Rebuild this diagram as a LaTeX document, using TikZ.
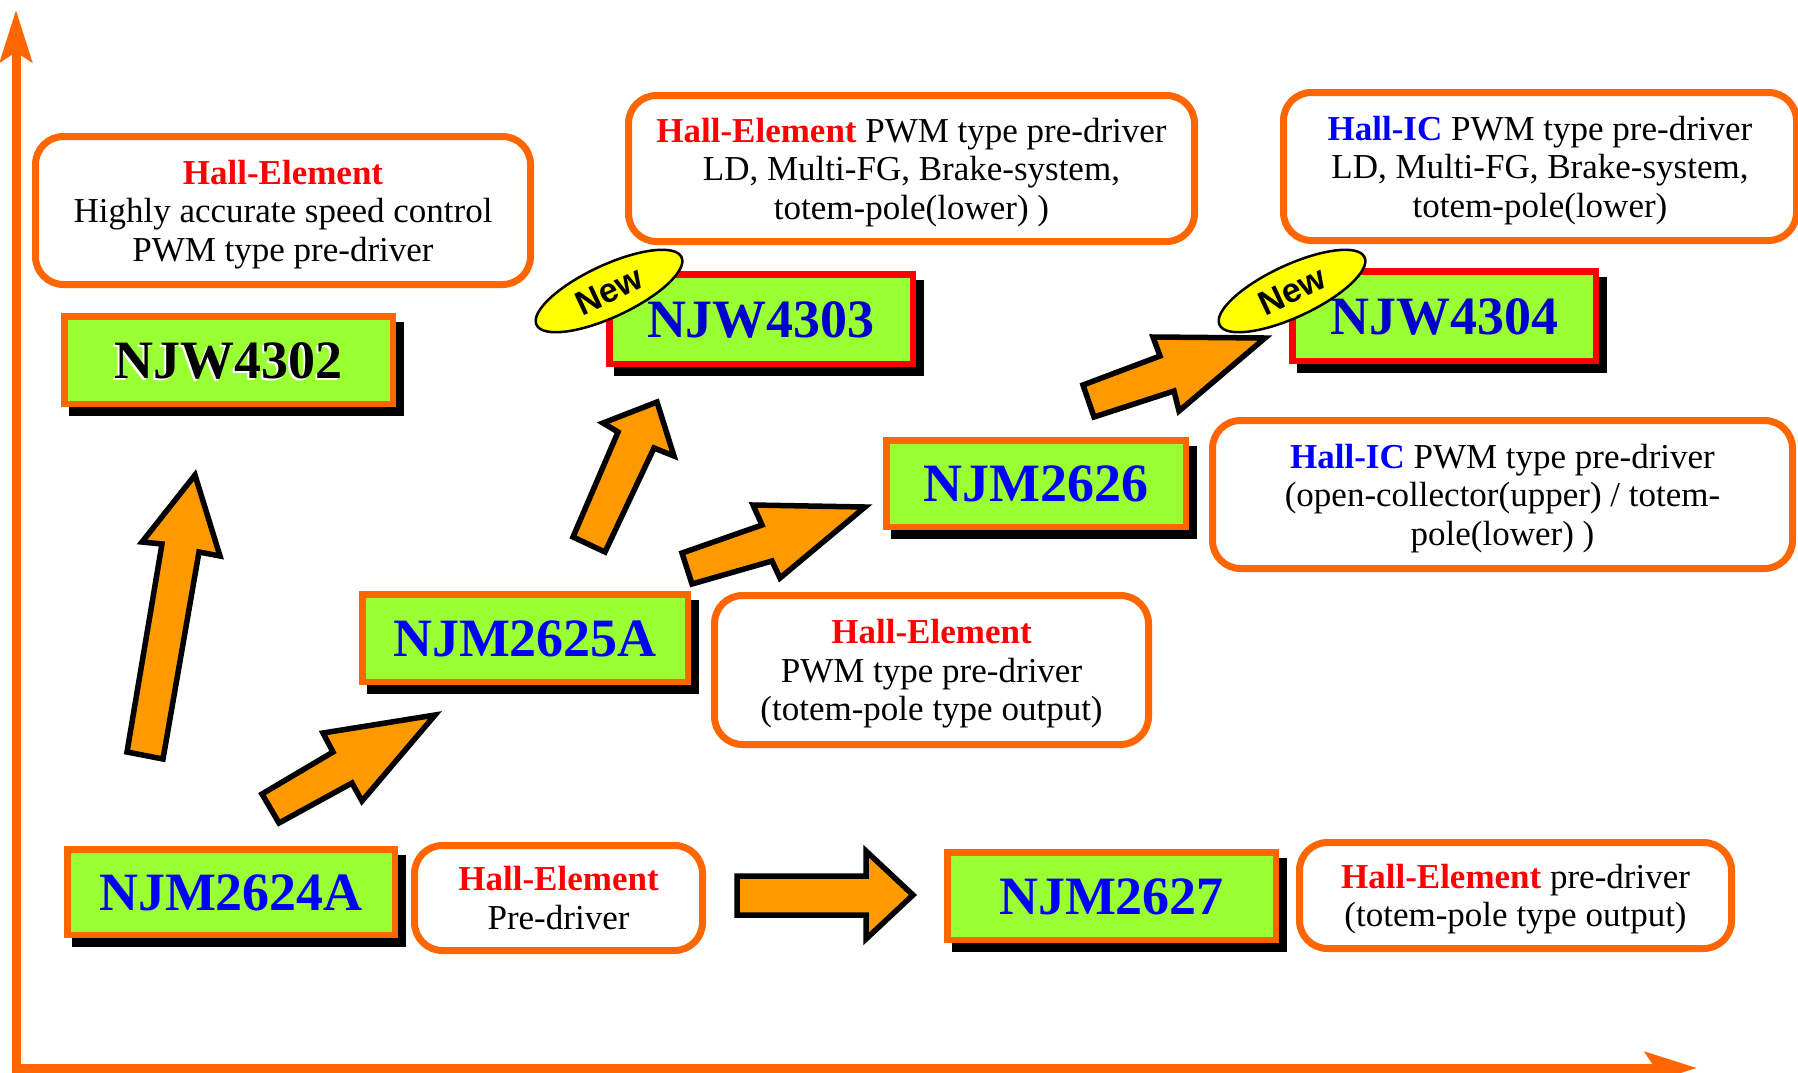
\documentclass[tikz,border=0pt]{standalone}
\usepackage{fontspec}
\setmainfont{Liberation Serif}
\newfontfamily\tagfamily{Liberation Sans}
\usepackage{xcolor}
\usepackage{tikz}
\usetikzlibrary{shapes,arrows.meta,positioning,shadows}

\definecolor{boxor}{HTML}{FF6600}
\definecolor{chipgreen}{HTML}{99FF33}
\definecolor{arrowor}{HTML}{FF9900}
\definecolor{hallred}{HTML}{FF0000}
\definecolor{hallblue}{HTML}{0000FF}
\definecolor{chipblue}{HTML}{0000FF}
\definecolor{newblue}{HTML}{0000CC}
\definecolor{newyellow}{HTML}{FFFF00}

\newcommand{\chipfont}{\bfseries\fontsize{54}{60}\selectfont}
\newcommand{\bodyfont}{\fontsize{35}{38.5}\selectfont}
\newcommand{\tagfont}{\tagfamily\bfseries\fontsize{34}{34}\selectfont}
\newcommand{\hallE}{\textcolor{hallred}{\bfseries Hall-Element}}
\newcommand{\hallIC}{\textcolor{hallblue}{\bfseries Hall-IC}}
\newcommand{\embossed}[1]{\makebox[0pt][l]{\kern-2pt\raisebox{-2pt}{\color{white}#1}}#1}

\tikzset{
  chip/.style={draw=boxor, fill=chipgreen, line width=6.5pt, inner sep=0pt,
    text=chipblue, font=\chipfont, text height=36pt, text depth=0pt,
    general shadow={fill=black, draw=black, line width=6.5pt, shadow xshift=8pt, shadow yshift=-9pt}},
  newchip/.style={chip, draw=red, text=newblue},
  descbox/.style={draw=boxor, fill=white, line width=7pt, rounded corners=28pt,
    inner sep=0pt, align=center, font=\bodyfont, text depth=0pt},
  newtag/.style={ellipse, draw=black, fill=newyellow, line width=2.5pt,
    minimum width=160pt, minimum height=52pt, inner sep=0pt, rotate=25, font=\tagfont},
  fatarrow/.style={draw=black, fill=arrowor, line width=5.5pt, line join=miter},
  axis/.style={draw=boxor, line width=9pt}
}

\begin{document}
\begin{tikzpicture}[x=1pt, y=-1pt]
    \useasboundingbox (0,0) rectangle (1798,1072);

    % axes
    \coordinate (origin) at (16,1068);
    \coordinate (ytip) at (16,10);
    \coordinate (xtip) at (1697,1068);
    \draw[axis, {Stealth[length=52pt,width=32pt,inset=10pt]}-{Stealth[length=52pt,width=32pt,inset=10pt]}]
        (ytip) -- (origin) -- (xtip);

    % descriptions
    \node[descbox, minimum width=495pt, minimum height=148pt] (desc4302) at (283,210.5)
        {\hallE\\Highly accurate speed control\\PWM type pre-driver};
    \node[descbox, minimum width=566pt, minimum height=146pt] (desc4303) at (911.5,168.5)
        {\hallE{} PWM type pre-driver\\LD, Multi-FG, Brake-system,\\totem-pole(lower) )};
    \node[descbox, minimum width=513pt, minimum height=148pt] (desc4304) at (1540,166.5)
        {\hallIC{} PWM type pre-driver\\LD, Multi-FG, Brake-system,\\totem-pole(lower)};
    \node[descbox, minimum width=580pt, minimum height=148pt] (desc2626) at (1502.5,494.5)
        {\hallIC{} PWM type pre-driver\\(open-collector(upper) / totem-\\pole(lower) )};
    \node[descbox, minimum width=434pt, minimum height=149pt] (desc2625) at (931.5,670)
        {\hallE\\PWM type pre-driver\\(totem-pole type output)};
    \node[descbox, minimum width=288pt, minimum height=105pt] (desc2624) at (558.5,898)
        {\hallE\\Pre-driver};
    \node[descbox, minimum width=432pt, minimum height=106pt] (desc2627) at (1515.5,895.5)
        {\hallE{} pre-driver\\(totem-pole type output)};

    % chips
    \node[chip, text=black, minimum width=328.5pt, minimum height=87.5pt] (njw4302) at (228.5,360) {\embossed{NJW4302}};
    \node[chip, minimum width=327.5pt, minimum height=85.5pt] (njm2624) at (231,892) {NJM2624A};
    \node[chip, minimum width=325.5pt, minimum height=87.5pt] (njm2625) at (525,638) {NJM2625A};
    \node[chip, minimum width=299.5pt, minimum height=86.5pt] (njm2626) at (1036,483.5) {NJM2626};
    \node[chip, minimum width=328.5pt, minimum height=87.5pt] (njm2627) at (1111.5,896) {NJM2627};
    \node[newchip, minimum width=303.5pt, minimum height=89.5pt] (njw4303) at (761,319) {NJW4303};
    \node[newchip, minimum width=303.5pt, minimum height=89.5pt] (njw4304) at (1444,316) {NJW4304};

    % big arrows
    \draw[fatarrow] (127,752) -- (162,544) -- (142,542) -- (195,475) -- (220,556) -- (199,552) -- (163,759) -- cycle;
    \draw[fatarrow] (262,794) -- (333,752) -- (323,733) -- (435,715) -- (362,801) -- (352,783) -- (279,823) -- cycle;
    \draw[fatarrow] (573,537) -- (618,432) -- (603,423) -- (657,402) -- (674,456) -- (654,448) -- (605,552) -- cycle;
    \draw[fatarrow] (682,553) -- (762,525) -- (753,505) -- (865,507) -- (780,578) -- (772,561) -- (692,584) -- cycle;
    \draw[fatarrow] (1083,385) -- (1160,356) -- (1153,337) -- (1265,338) -- (1179,411) -- (1174,391) -- (1094,417) -- cycle;
    \draw[fatarrow] (737,876) -- (866,876) -- (866,851) -- (913,895) -- (866,939) -- (866,915) -- (737,915) -- cycle;

    % new marks
    \node[newtag] (new4303) at (609,291) {New};
    \node[newtag] (new4304) at (1292,291) {New};
\end{tikzpicture}
\end{document}
